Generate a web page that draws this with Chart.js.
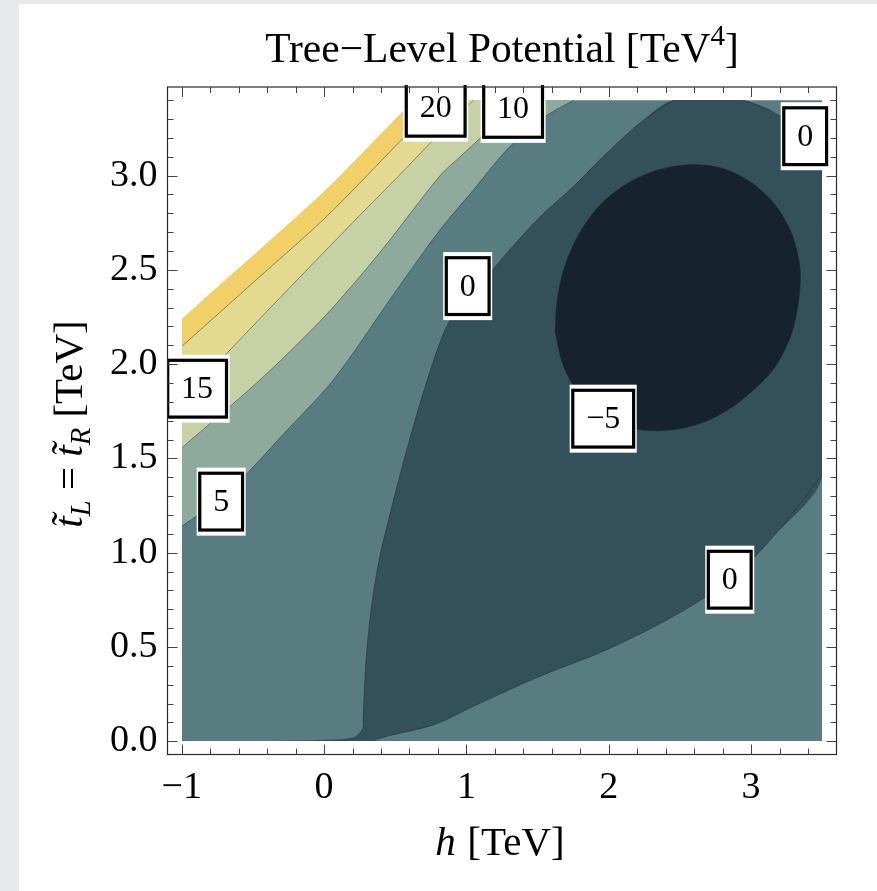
<!DOCTYPE html>
<html><head><meta charset="utf-8">
<script src="https://cdn.jsdelivr.net/npm/chart.js@4.4.1/dist/chart.umd.min.js"></script>
<style>
html,body{margin:0;padding:0;background:#e7e9ed;width:877px;height:891px;overflow:hidden}
#wrap{position:absolute;left:19px;top:4px;width:858px;height:887px;background:#fff}
canvas{display:block}
</style></head><body><div id="wrap"><canvas id="c" width="858" height="887"></canvas></div>
<script>
// ---------- data ----------
const hTicks = [-1, 0, 1, 2, 3];
const tTicks = [0, 0.5, 1, 1.5, 2, 2.5, 3];
const hMinorStep = 0.2;
const tMinorStep = 0.1;
const plotH = [-1, 3.5];      // plotted h domain
const plotT = [0, 3.4];       // plotted t domain

// contour curves, [h, t] pairs
const level25 = [[-1,2.24],[-0.683,2.455],[-0.449,2.61],[0.019,2.93],[0.569,3.353],[0.63,3.40]];
const level20 = [[-1,2.094],[-0.449,2.466],[0.019,2.784],[0.569,3.208],[0.784,3.36],[0.83,3.40]];
const level15 = [[-1,1.80],[-0.743,2.01],[-0.3,2.36],[0.2,2.75],[0.5,2.98],[0.792,3.208],[1.05,3.40]];
const level10 = [[-1,1.556],[-0.449,1.918],[0,2.25],[0.4,2.60],[0.815,3.0],[0.956,3.10],[1.328,3.354],[1.45,3.40]];
const level5  = [[-1,1.14],[-0.723,1.29],[-0.567,1.40],[-0.285,1.63],[0.066,1.918],[0.488,2.37],[0.815,2.713],[1.05,2.925],[1.284,3.137],[1.519,3.297],[1.753,3.40]];
const level0Left = [[-0.344,0],[0.05,0.006],[0.206,0.018],[0.253,0.046],[0.274,0.073],[0.274,0.115],[0.295,0.433],[0.330,0.698],[0.387,0.963],[0.471,1.229],[0.562,1.494],[0.661,1.759],[0.759,1.997],[0.850,2.182],[0.942,2.300],[1.047,2.379],[1.286,2.591],[1.518,2.782],[1.750,2.941],[1.989,3.122],[2.221,3.281],[2.453,3.40]];
const level0Upper = [[2.944,3.40],[3.112,3.355],[3.217,3.311],[3.345,3.253],[3.5,3.18]];
const level0Lower = [[3.5,1.414],[3.158,1.087],[2.853,0.857],[2.455,0.663],[1.987,0.486],[1.518,0.345],[1.050,0.186],[0.815,0.100],[0.65,0.062],[0.511,0.039],[0.417,0.021],[0.336,0]];
const levelM5 = [[1.623,2.167],[1.637,2.342],[1.694,2.527],[1.799,2.702],[1.940,2.846],[2.115,2.952],[2.326,3.026],[2.558,3.058],[2.783,3.042],[2.994,2.968],[3.169,2.846],[3.289,2.687],[3.345,2.501],[3.331,2.316],[3.275,2.141],[3.155,1.971],[2.937,1.812],[2.727,1.711],[2.502,1.658],[2.291,1.647],[2.094,1.674],[1.926,1.743],[1.785,1.849],[1.680,1.992],[1.623,2.167]];

// contour labels
const labelTexts = ['20', '10', '0', '0', '\u22125', '0', '15', '5'];
const labelH = [0.784, 1.328, 3.38, 1.009, 1.961, 2.85, -0.892, -0.723];
const labelT = [3.36, 3.354, 3.209, 2.414, 1.711, 0.857, 1.870, 1.271];

// ---------- styling ----------
const SERIF = '"Liberation Serif", "Times New Roman", serif';
const C = {navy:'#16232f', dark:'#34515b', teal:'#597c81', gray:'#8eaa9c', lgreen:'#c6d2a6', pyellow:'#e4da8f', yellow:'#f1d067', white:'#ffffff'};
const LINE = 'rgba(30,40,40,0.45)';
const xy = a => a.map(p => ({x: p[0], y: p[1]}));
const base = {pointRadius: 0, pointHoverRadius: 0, borderWidth: 0, showLine: true};

const datasets = [
  {...base, data: xy([[plotH[0], plotT[1]], [plotH[1], plotT[1]]]), fill: 'start', backgroundColor: C.teal, tension: 0, order: 20},
  {...base, data: xy([...level0Left, ...level0Upper, ...level0Lower]), fill: 'shape', backgroundColor: C.dark, tension: 0.3, order: 19},
  {...base, data: xy(levelM5), fill: 'shape', backgroundColor: C.navy, borderColor: LINE, borderWidth: 1, tension: 0.3, order: 18},
  {...base, data: xy(level5), fill: 'end', backgroundColor: C.gray, borderColor: LINE, borderWidth: 1, tension: 0.3, order: 17},
  {...base, data: xy(level10), fill: 'end', backgroundColor: C.lgreen, borderColor: LINE, borderWidth: 1, tension: 0.3, order: 16},
  {...base, data: xy(level15), fill: 'end', backgroundColor: C.pyellow, borderColor: LINE, borderWidth: 1, tension: 0.3, order: 15},
  {...base, data: xy(level20), fill: 'end', backgroundColor: C.yellow, borderColor: LINE, borderWidth: 1, tension: 0.3, order: 14},
  {...base, data: xy(level25), fill: 'end', backgroundColor: C.white, tension: 0.3, order: 13},
  {...base, data: xy(level0Left), fill: false, borderColor: LINE, borderWidth: 1, tension: 0.3, order: 2},
  {...base, data: xy(level0Upper), fill: false, borderColor: LINE, borderWidth: 1, tension: 0.3, order: 2},
  {...base, data: xy(level0Lower), fill: false, borderColor: LINE, borderWidth: 1, tension: 0.3, order: 2}
];

// clip the contour fills to the plotted domain
const clipPlugin = {
  id: 'domainClip',
  beforeDatasetsDraw(chart) {
    const {ctx, scales: {x, y}} = chart;
    const l = Math.round(x.getPixelForValue(plotH[0])), r = Math.round(x.getPixelForValue(plotH[1]));
    const t = Math.round(y.getPixelForValue(plotT[1])), b = Math.round(y.getPixelForValue(plotT[0]));
    ctx.save(); ctx.beginPath(); ctx.rect(l, t, r - l, b - t); ctx.clip();
  },
  afterDatasetsDraw(chart) { chart.ctx.restore(); }
};

function drawParts(ctx, parts, x, y, size) {
  const widths = parts.map(p => {
    ctx.font = (p.italic ? 'italic ' : '') + (size * (p.scale || 1)) + 'px ' + SERIF;
    return ctx.measureText(p.t).width + (p.gap || 0) * size;
  });
  const total = widths.reduce((a, b) => a + b, 0);
  let cx = x - total / 2;
  parts.forEach((p, i) => {
    ctx.font = (p.italic ? 'italic ' : '') + (size * (p.scale || 1)) + 'px ' + SERIF;
    ctx.fillText(p.t, cx, y + (p.dy || 0) * size);
    cx += widths[i];
  });
}

const decorPlugin = {
  id: 'decor',
  afterDraw(chart) {
    const {ctx, chartArea: a, scales: {x, y}} = chart;
    ctx.save();
    // contour labels
    ctx.save();
    ctx.beginPath(); ctx.rect(a.left, a.top - 2, a.right - a.left, a.bottom - a.top + 2); ctx.clip();
    ctx.font = '32px ' + SERIF;
    labelTexts.forEach((txt, i) => {
      const px = x.getPixelForValue(labelH[i]), py = y.getPixelForValue(labelT[i]);
      const tw = ctx.measureText(txt).width;
      const w = tw + 30, h = 60;
      ctx.fillStyle = '#fff';
      ctx.fillRect(px - w / 2 - 1.5, py - h / 2 - 4, w + 3, h + 8);
      ctx.strokeStyle = '#000'; ctx.lineWidth = 3.2;
      ctx.strokeRect(px - w / 2 + 1.6, py - h / 2 + 1.6, w - 3.2, h - 3.2);
      ctx.fillStyle = '#000'; ctx.textAlign = 'center'; ctx.textBaseline = 'middle';
      ctx.fillText(txt, px, py + 1);
    });
    ctx.restore();

    // frame
    ctx.strokeStyle = '#2a2a2a'; ctx.lineWidth = 1.2;
    ctx.strokeRect(a.left, a.top, a.right - a.left, a.bottom - a.top);
    // inward ticks on all four sides
    ctx.strokeStyle = '#444'; ctx.lineWidth = 1;
    const isMajor = (v, arr) => arr.some(m => Math.abs(m - v) < 1e-6);
    for (let k = 0; ; k++) {
      const v = hTicks[0] + k * hMinorStep;
      if (v > x.max) break;
      const px = Math.round(x.getPixelForValue(v)) + 0.5;
      const len = isMajor(v, hTicks) ? 10 : 6;
      ctx.beginPath();
      ctx.moveTo(px, a.bottom); ctx.lineTo(px, a.bottom - len);
      ctx.moveTo(px, a.top); ctx.lineTo(px, a.top + len);
      ctx.stroke();
    }
    for (let k = 0; ; k++) {
      const v = tTicks[0] + k * tMinorStep;
      if (v > y.max) break;
      const py = Math.round(y.getPixelForValue(v)) + 0.5;
      const len = isMajor(v, tTicks) ? 10 : 6;
      ctx.beginPath();
      ctx.moveTo(a.left, py); ctx.lineTo(a.left + len, py);
      ctx.moveTo(a.right, py); ctx.lineTo(a.right - len, py);
      ctx.stroke();
    }

    // titles
    ctx.fillStyle = '#000'; ctx.textAlign = 'left'; ctx.textBaseline = 'alphabetic';
    drawParts(ctx, [
      {t: 'Tree\u2212Level Potential [TeV'},
      {t: '4', scale: 0.7, dy: -0.42},
      {t: ']'}
    ], (a.left + a.right) / 2, 58, 41.5);
    drawParts(ctx, [
      {t: 'h', italic: true, gap: 0.28},
      {t: '[TeV]'}
    ], (a.left + a.right) / 2 - 2, 851, 41);
    ctx.save();
    ctx.translate(63, 420); ctx.rotate(-Math.PI / 2);
    drawParts(ctx, [
      {t: 't\u0303', italic: true},
      {t: 'L', italic: true, scale: 0.7, dy: 0.2},
      {t: ' = '},
      {t: 't\u0303', italic: true},
      {t: 'R', italic: true, scale: 0.7, dy: 0.2},
      {t: ' [TeV]'}
    ], 0, 0, 41);
    ctx.restore();
    ctx.restore();
  }
};

new Chart(document.getElementById('c'), {
  type: 'line',
  data: {datasets},
  options: {
    responsive: false,
    devicePixelRatio: 1,
    animation: false,
    events: [],
    layout: {padding: {top: 83, right: 40.5, bottom: 0, left: 0}},
    plugins: {legend: {display: false}, tooltip: {enabled: false}, title: {display: false}},
    scales: {
      x: {
        type: 'linear', min: -1.1, max: 3.6,
        grid: {display: false, drawTicks: false}, border: {display: false},
        afterBuildTicks: s => { s.ticks = hTicks.map(v => ({value: v})); },
        afterFit: s => { s.height = 136.5; },
        ticks: {
          padding: 11, maxRotation: 0, autoSkip: false, color: '#000',
          font: {family: SERIF, size: 38},
          callback: v => (v < 0 ? '\u2212' + Math.abs(v) : String(v))
        }
      },
      y: {
        type: 'linear', min: -0.07, max: 3.47,
        grid: {display: false, drawTicks: false}, border: {display: false},
        afterBuildTicks: s => { s.ticks = tTicks.map(v => ({value: v})); },
        afterFit: s => { s.width = 148.5; },
        ticks: {
          padding: 10, autoSkip: false, color: '#000',
          font: {family: SERIF, size: 38},
          callback: v => Number(v).toFixed(1)
        }
      }
    }
  },
  plugins: [clipPlugin, decorPlugin]
});
</script></body></html>
